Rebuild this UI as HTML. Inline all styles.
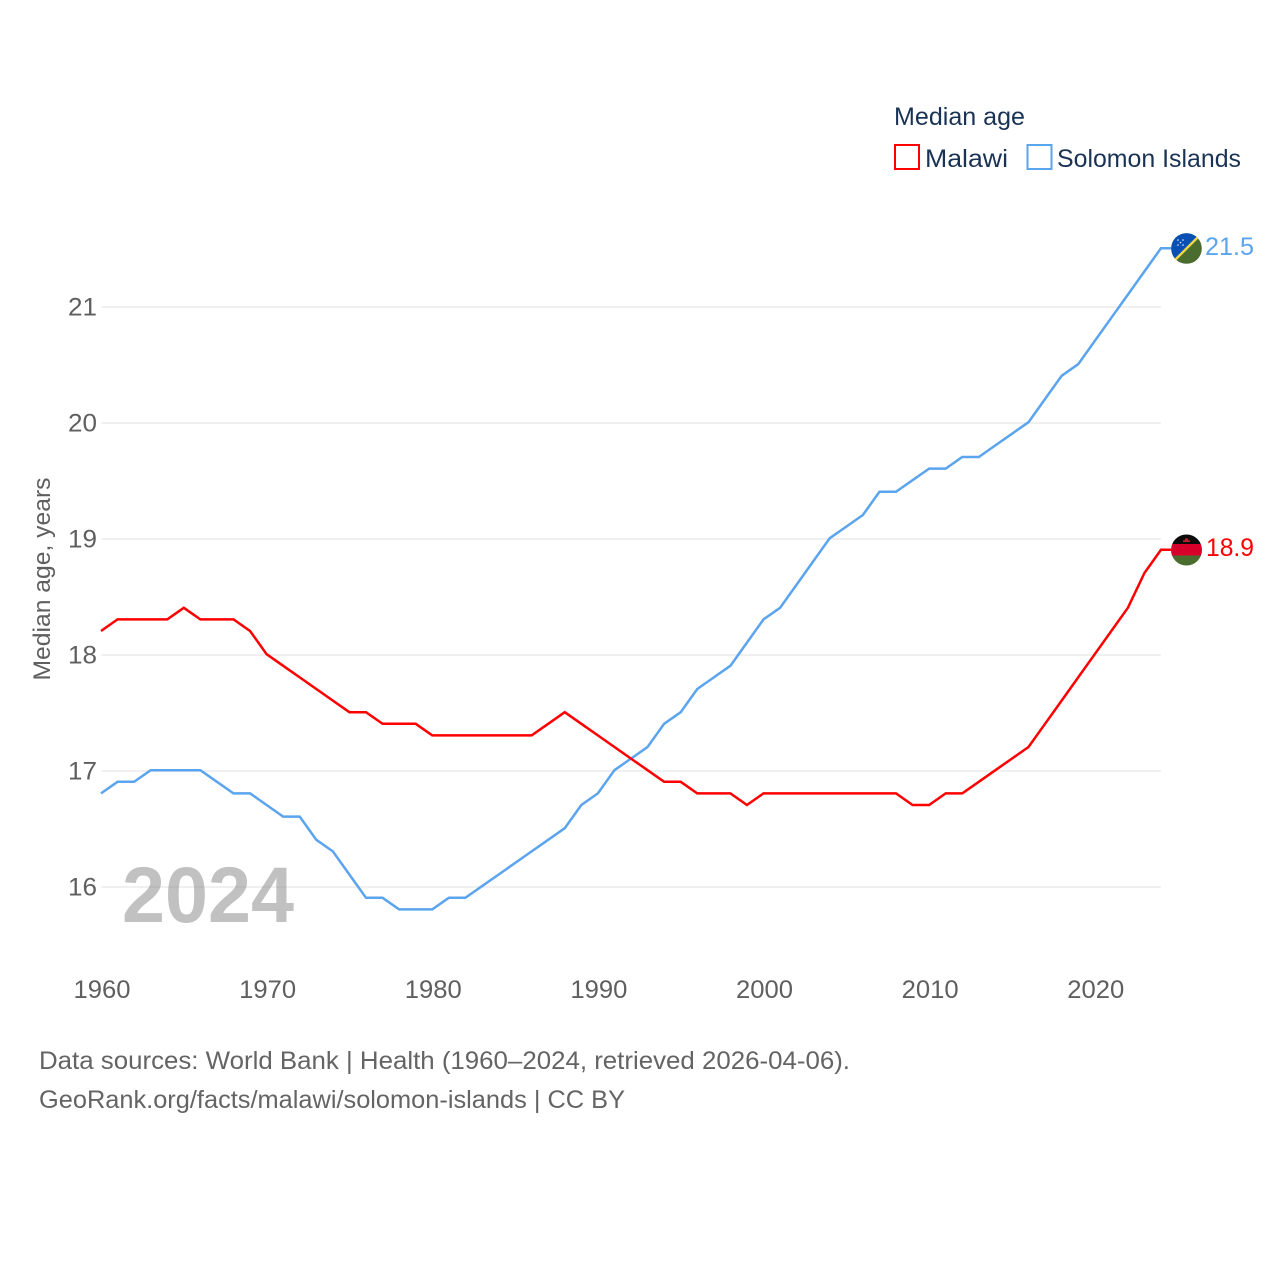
<!DOCTYPE html>
<html lang="en">
<head>
<meta charset="utf-8">
<title>Median age: Malawi and Solomon Islands</title>
<style>
html,body{margin:0;padding:0;background:#fff;width:1280px;height:1280px;overflow:hidden}
svg{display:block}
text{font-family:"Liberation Sans",sans-serif}
</style>
</head>
<body>
<svg id="chart" xmlns="http://www.w3.org/2000/svg" width="1280" height="1280" viewBox="0 0 1280 1280">
  <defs>
    <clipPath id="flag-clip-sb"><circle cx="1186.500" cy="248.500" r="15.300"/></clipPath>
    <clipPath id="flag-clip-mw"><circle cx="1186.500" cy="550" r="15.500"/></clipPath>
  </defs>
  <g id="grid"></g>
  <g id="yticks"></g>
  <g id="xticks"></g>
  <text transform="translate(50,579) rotate(-90)" text-anchor="middle" font-size="24" fill="#5f5f5f" textLength="203" lengthAdjust="spacingAndGlyphs">Median age, years</text>
  <text x="122" y="922" font-size="79" font-weight="700" fill="#8a8a8a" fill-opacity="0.53" textLength="172" lengthAdjust="spacingAndGlyphs">2024</text>
  <g id="series"></g>

  <g clip-path="url(#flag-clip-sb)">
    <rect x="1170" y="232" width="33" height="33" fill="#4a6c2f"/>
    <polygon points="1170,232 1203,232 1170,265" fill="#0a50b4"/>
    <line x1="1170" y1="265" x2="1203" y2="232" stroke="#f0d84a" stroke-width="2.400"/>
    <g fill="#e8f0ff">
      <circle cx="1178" cy="240" r=".8"/><circle cx="1183" cy="240" r=".8"/><circle cx="1178" cy="245" r=".8"/><circle cx="1183" cy="245" r=".8"/><circle cx="1180.500" cy="242.500" r=".8"/>
    </g>
  </g>
  <g clip-path="url(#flag-clip-mw)">
    <rect x="1170" y="534" width="33" height="10" fill="#0b0b0b"/>
    <rect x="1170" y="544" width="33" height="11.500" fill="#d6002b"/>
    <rect x="1170" y="555.500" width="33" height="11" fill="#4a6c2f"/>
    <path d="M1183 542v-2l1.200 .6 1-1.800 1.300 -.8 1.300 .8 1 1.800 1.200 -.6v2z" fill="#b5202c"/>
  </g>

  <text x="1205" y="255" font-size="25" fill="#5ba4ee" textLength="49" lengthAdjust="spacingAndGlyphs">21.5</text>
  <text x="1206" y="556" font-size="25" fill="#ff0000" textLength="48" lengthAdjust="spacingAndGlyphs">18.9</text>

  <g>
    <text x="894" y="125" font-size="25" fill="#1a3355" textLength="131" lengthAdjust="spacingAndGlyphs">Median age</text>
    <rect x="895" y="145" width="24" height="24" fill="#fff" stroke="#ff0000" stroke-width="2"/>
    <text x="925" y="167" font-size="25" fill="#1a3355" textLength="83" lengthAdjust="spacingAndGlyphs">Malawi</text>
    <rect x="1027.500" y="145" width="24" height="24" fill="#fff" stroke="#5ba4ee" stroke-width="2"/>
    <text x="1057" y="167" font-size="25" fill="#1a3355" textLength="184" lengthAdjust="spacingAndGlyphs">Solomon Islands</text>
  </g>

  <g>
    <text x="39" y="1069" font-size="25" fill="#646464" textLength="811" lengthAdjust="spacingAndGlyphs">Data sources: World Bank | Health (1960–2024, retrieved 2026-04-06).</text>
    <text x="39" y="1108" font-size="25" fill="#646464" textLength="586" lengthAdjust="spacingAndGlyphs">GeoRank.org/facts/malawi/solomon-islands | CC BY</text>
  </g>
</svg>
<script>
const years = [1960,1961,1962,1963,1964,1965,1966,1967,1968,1969,1970,1971,1972,1973,1974,1975,1976,1977,1978,1979,1980,1981,1982,1983,1984,1985,1986,1987,1988,1989,1990,1991,1992,1993,1994,1995,1996,1997,1998,1999,2000,2001,2002,2003,2004,2005,2006,2007,2008,2009,2010,2011,2012,2013,2014,2015,2016,2017,2018,2019,2020,2021,2022,2023,2024];
const malawi = [18.2,18.3,18.3,18.3,18.3,18.4,18.3,18.3,18.3,18.2,18.0,17.9,17.8,17.7,17.6,17.5,17.5,17.4,17.4,17.4,17.3,17.3,17.3,17.3,17.3,17.3,17.3,17.4,17.5,17.4,17.3,17.2,17.1,17.0,16.9,16.9,16.8,16.8,16.8,16.7,16.8,16.8,16.8,16.8,16.8,16.8,16.8,16.8,16.8,16.7,16.7,16.8,16.8,16.9,17.0,17.1,17.2,17.4,17.6,17.8,18.0,18.2,18.4,18.7,18.9];
const solomonIslands = [16.8,16.9,16.9,17.0,17.0,17.0,17.0,16.9,16.8,16.8,16.7,16.6,16.6,16.4,16.3,16.1,15.9,15.9,15.8,15.8,15.8,15.9,15.9,16.0,16.1,16.2,16.3,16.4,16.5,16.7,16.8,17.0,17.1,17.2,17.4,17.5,17.7,17.8,17.9,18.1,18.3,18.4,18.6,18.8,19.0,19.1,19.2,19.4,19.4,19.5,19.6,19.6,19.7,19.7,19.8,19.9,20.0,20.2,20.4,20.5,20.7,20.9,21.1,21.3,21.5];
const yTickValues = [16,17,18,19,20,21];
const xTickValues = [1960,1970,1980,1990,2000,2010,2020];

const SVG_NS = 'http://www.w3.org/2000/svg';
function xScale(year) { return 101 + (year - 1960) * (1161 - 101) / 64; }
function yScale(age) { return 886.200 - (age - 16) * 116; }

const gridGroup = document.getElementById('grid');
const yTickGroup = document.getElementById('yticks');
const xTickGroup = document.getElementById('xticks');
const seriesGroup = document.getElementById('series');

yTickValues.forEach(function (value) {
  const line = document.createElementNS(SVG_NS, 'line');
  
  
  line.setAttribute('x1', xScale(1960));
  line.setAttribute('x2', xScale(2024));
  line.setAttribute('y1', yScale(value) + 0.800);
  line.setAttribute('y2', yScale(value) + 0.800);
  line.setAttribute('stroke', '#ebebeb');
  line.setAttribute('stroke-width', '1.500');
  gridGroup.appendChild(line);

  const label = document.createElementNS(SVG_NS, 'text');
  
  
  label.setAttribute('x', 97);
  label.setAttribute('y', yScale(value) + 9.300);
  label.setAttribute('text-anchor', 'end');
  label.setAttribute('font-size', '25');
  label.setAttribute('fill', '#5f5f5f');
  label.setAttribute('textLength', '29');
  label.setAttribute('lengthAdjust', 'spacingAndGlyphs');
  label.textContent = value;
  yTickGroup.appendChild(label);
});

xTickValues.forEach(function (value) {
  const label = document.createElementNS(SVG_NS, 'text');
  
  
  label.setAttribute('x', xScale(value) + 1);
  label.setAttribute('y', 998);
  label.setAttribute('text-anchor', 'middle');
  label.setAttribute('font-size', '25');
  label.setAttribute('fill', '#5f5f5f');
  label.setAttribute('textLength', '57');
  label.setAttribute('lengthAdjust', 'spacingAndGlyphs');
  label.textContent = value;
  xTickGroup.appendChild(label);
});

function seriesPoints(values) {
  return values.map(function (value, i) {
    return xScale(years[i]).toFixed(2) + ',' + yScale(value).toFixed(2);
  }).join(' ');
}

const solomonLine = document.createElementNS(SVG_NS, 'polyline');


solomonLine.setAttribute('points', seriesPoints(solomonIslands) + ' ' + (xScale(2024) + 10) + ',' + yScale(solomonIslands[solomonIslands.length - 1]));
solomonLine.setAttribute('fill', 'none');
solomonLine.setAttribute('stroke', '#5ba4ee');
solomonLine.setAttribute('stroke-width', '2.500');
seriesGroup.appendChild(solomonLine);

const malawiLine = document.createElementNS(SVG_NS, 'polyline');


malawiLine.setAttribute('points', seriesPoints(malawi) + ' ' + (xScale(2024) + 10) + ',' + yScale(malawi[malawi.length - 1]));
malawiLine.setAttribute('fill', 'none');
malawiLine.setAttribute('stroke', '#ff0000');
malawiLine.setAttribute('stroke-width', '2.500');
seriesGroup.appendChild(malawiLine);
</script>
</body>
</html>
